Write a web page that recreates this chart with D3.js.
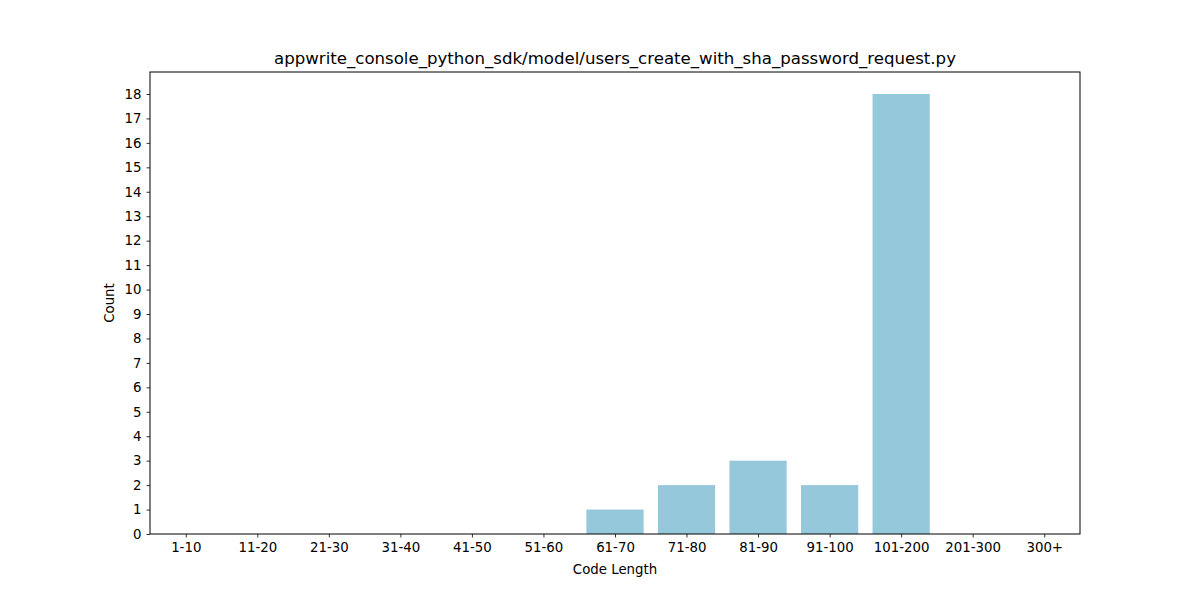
<!DOCTYPE html>
<html>
<head>
<meta charset="utf-8">
<script src="https://cdn.jsdelivr.net/npm/d3@7"></script>
<style>
  body { margin: 0; background: #fff; }
  text { font-family: "DejaVu Sans", sans-serif; fill: #000; }
</style>
</head>
<body>
<script>
// chart data
var categories = ["1-10", "11-20", "21-30", "31-40", "41-50", "51-60", "61-70", "71-80", "81-90", "91-100", "101-200", "201-300", "300+"];
var counts = [0, 0, 0, 0, 0, 0, 1, 2, 3, 2, 18, 0, 0];
var yTicks = d3.range(0, 19);
var title = "appwrite_console_python_sdk/model/users_create_with_sha_password_request.py";

var width = 1200, height = 600;
var margin = {top: 72, right: 120, bottom: 66, left: 150};
var w = width - margin.left - margin.right,
    h = height - margin.top - margin.bottom;

var svg = d3.select("body").append("svg")
    .attr("width", width)
    .attr("height", height);

var g = svg.append("g")
    .attr("transform", "translate(" + margin.left + "," + margin.top + ")");

// x as a linear scale over category index, like matplotlib (-0.5 .. n-0.5)
var x = d3.scaleLinear()
    .domain([-0.5, categories.length - 0.5])
    .range([0, w]);
var y = d3.scaleLinear()
    .domain([0, d3.max(counts) * 1.05])
    .range([h, 0]);

var barW = x(0.8) - x(0);

g.selectAll(".bar")
    .data(counts)
  .enter().append("rect")
    .attr("class", "bar")
    .attr("x", function(d, i) { return x(i - 0.4); })
    .attr("width", barW)
    .attr("y", function(d) { return y(d); })
    .attr("height", function(d) { return h - y(d); })
    .attr("fill", "#96c8dc");

// axes
var xAxis = g.append("g")
    .attr("transform", "translate(0," + h + ")")
    .call(d3.axisBottom(x)
      .tickValues(d3.range(categories.length))
      .tickFormat(function(i) { return categories[i]; })
      .tickSize(3.5).tickPadding(5));

var yAxis = g.append("g")
    .call(d3.axisLeft(y)
      .tickValues(yTicks)
      .tickFormat(d3.format("d"))
      .tickSize(3.5).tickPadding(5));

[xAxis, yAxis].forEach(function(a) {
  a.select(".domain").remove();
  a.selectAll("line").attr("stroke", "#000").attr("stroke-width", 0.8);
  a.selectAll("text").style("font-size", "13.33px").style("font-family", "DejaVu Sans, sans-serif");
});

// frame
g.append("rect")
    .attr("width", w)
    .attr("height", h)
    .attr("fill", "none")
    .attr("stroke", "#000")
    .attr("stroke-width", 1);

// labels
svg.append("text")
    .attr("x", margin.left + w / 2)
    .attr("y", 574)
    .attr("text-anchor", "middle")
    .style("font-size", "13.33px")
    .text("Code Length");

svg.append("text")
    .attr("transform", "translate(114," + (margin.top + h / 2) + ") rotate(-90)")
    .attr("text-anchor", "middle")
    .style("font-size", "13.33px")
    .text("Count");

svg.append("text")
    .attr("x", margin.left + w / 2)
    .attr("y", 64)
    .attr("text-anchor", "middle")
    .style("font-size", "16.6px")
    .text(title);
</script>
</body>
</html>
